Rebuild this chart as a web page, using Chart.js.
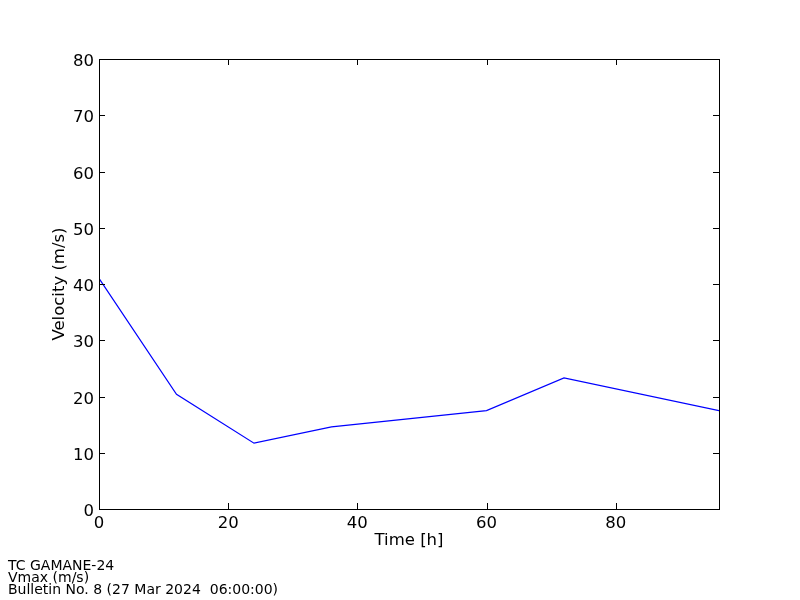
<!DOCTYPE html>
<html>
<head>
<meta charset="utf-8">
<script src="https://cdn.jsdelivr.net/npm/chart.js@4"></script>
<style>
  html, body { margin: 0; padding: 0; background: #fff; }
  #wrap { width: 800px; height: 600px; position: relative; }
</style>
</head>
<body>
<div id="wrap"><canvas id="velChart" width="800" height="600"></canvas></div>
<script>
// Datos: hora de pronóstico y velocidad máxima
const horas = [0, 12, 24, 36, 60, 72, 96];
const vmax = [41.0, 20.4, 11.7, 14.6, 17.5, 23.3, 17.5];
const xTicks = [0, 20, 40, 60, 80];
const yTicks = [0, 10, 20, 30, 40, 50, 60, 70, 80];
const pieTexto = ['TC GAMANE-24', 'Vmax (m/s)', 'Bulletin No. 8 (27 Mar 2024  06:00:00)'];

const fuente = 'DejaVu Sans';

// marcas hacia adentro en los cuatro lados, etiquetas, marco y textos
const estiloClasico = {
    id: 'estiloClasico',
    afterDraw(chart) {
        const c = chart.ctx;
        const a = chart.chartArea;
        const sx = chart.scales.x, sy = chart.scales.y;
        const len = 6;
        c.save();
        c.strokeStyle = '#000';
        c.lineWidth = 1;
        c.beginPath();
        xTicks.forEach(v => {
            const px = Math.round(sx.getPixelForValue(v)) + 0.5;
            c.moveTo(px, a.bottom); c.lineTo(px, a.bottom - len);
            c.moveTo(px, a.top); c.lineTo(px, a.top + len);
        });
        yTicks.forEach(v => {
            const py = Math.round(sy.getPixelForValue(v)) + 0.5;
            c.moveTo(a.left, py); c.lineTo(a.left + len, py);
            c.moveTo(a.right, py); c.lineTo(a.right - len, py);
        });
        c.stroke();
        c.strokeRect(a.left + 0.5, a.top + 0.5, a.right - a.left, a.bottom - a.top);

        c.fillStyle = '#000';
        c.font = '16.5px "' + fuente + '"';
        c.textBaseline = 'alphabetic';
        c.textAlign = 'center';
        xTicks.forEach(v => c.fillText(String(v), sx.getPixelForValue(v), a.bottom + 19));
        c.textAlign = 'right';
        yTicks.forEach(v => c.fillText(String(v), a.left - 5, sy.getPixelForValue(v) + 7));

        c.textAlign = 'center';
        c.textBaseline = 'middle';
        c.fillText('Time [h]', (a.left + a.right) / 2, 541);
        c.save();
        c.translate(60, (a.top + a.bottom) / 2);
        c.rotate(-Math.PI / 2);
        c.fillText('Velocity (m/s)', 0, 0);
        c.restore();

        c.font = '14px "' + fuente + '"';
        c.textAlign = 'left';
        c.textBaseline = 'alphabetic';
        pieTexto.forEach((t, i) => c.fillText(t, 8, 570 + i * 12));
        c.restore();
    }
};

const ctx = document.getElementById('velChart').getContext('2d');
const velChart = new Chart(ctx, {
    type: 'line',
    data: {
        datasets: [{
            data: horas.map((h, i) => ({ x: h, y: vmax[i] })),
            borderColor: '#0000ff',
            borderWidth: 1.2,
            pointRadius: 0,
            fill: false,
            tension: 0
        }]
    },
    options: {
        responsive: false,
        animation: false,
        layout: { padding: { left: 0, top: 59, right: 81, bottom: 0 } },
        plugins: { legend: { display: false }, tooltip: { enabled: false } },
        scales: {
            x: {
                type: 'linear',
                min: 0,
                max: 96,
                afterBuildTicks: s => { s.ticks = xTicks.map(v => ({ value: v })); },
                afterFit: s => { s.height = 91; },
                grid: { display: false, drawTicks: false },
                border: { display: false },
                ticks: { display: false }
            },
            y: {
                min: 0,
                max: 80,
                afterBuildTicks: s => { s.ticks = yTicks.map(v => ({ value: v })); },
                afterFit: s => { s.width = 99; },
                grid: { display: false, drawTicks: false },
                border: { display: false },
                ticks: { display: false }
            }
        }
    },
    plugins: [estiloClasico]
});
</script>
</body>
</html>
